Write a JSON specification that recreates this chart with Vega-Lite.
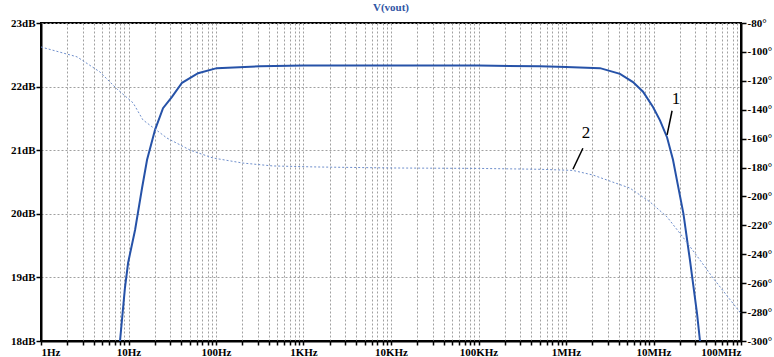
{
  "$schema": "https://vega.github.io/schema/vega-lite/v6.json",
  "width": 700,
  "height": 318,
  "autosize": {"type": "none"},
  "padding": {"left": 41, "top": 23, "right": 33, "bottom": 16},
  "background": "white",
  "title": {"text": "V(vout)", "color": "#2f55a4", "font": "Liberation Serif", "fontWeight": "bold", "fontSize": 11, "offset": 4},
  "config": {
    "view": {"stroke": "black", "strokeWidth": 2},
    "axis": {
      "labelFont": "Liberation Serif", "labelFontWeight": "bold", "labelFontSize": 11, "labelColor": "black",
      "tickColor": "black", "domainColor": "black", "domainWidth": 2, "tickWidth": 1.5,
      "gridColor": "#a0a0a0", "gridDash": [2, 2], "gridWidth": 1, "title": null
    }
  },
  "datasets": {
    "mag": [
      {"f": 8.0, "db": 18.0}, {"f": 9.1, "db": 18.83}, {"f": 9.9, "db": 19.23}, {"f": 11.9, "db": 19.75},
      {"f": 14.3, "db": 20.41}, {"f": 16.3, "db": 20.85}, {"f": 20.1, "db": 21.32}, {"f": 24.8, "db": 21.66},
      {"f": 31.4, "db": 21.84}, {"f": 40.9, "db": 22.06}, {"f": 62.4, "db": 22.21}, {"f": 102, "db": 22.29},
      {"f": 317, "db": 22.32}, {"f": 1000, "db": 22.33}, {"f": 10000, "db": 22.33}, {"f": 100000, "db": 22.33},
      {"f": 500000, "db": 22.32}, {"f": 1000000, "db": 22.31}, {"f": 2450000, "db": 22.29}, {"f": 4140000, "db": 22.2},
      {"f": 5830000, "db": 22.07}, {"f": 7590000, "db": 21.92}, {"f": 9870000, "db": 21.68}, {"f": 11860000, "db": 21.47},
      {"f": 14300000, "db": 21.2}, {"f": 16700000, "db": 20.85}, {"f": 19000000, "db": 20.45}, {"f": 22000000, "db": 20.0},
      {"f": 26100000, "db": 19.27}, {"f": 31400000, "db": 18.44}, {"f": 34000000, "db": 18.0}
    ],
    "phase": [
      {"f": 1, "deg": -96.6}, {"f": 2.58, "deg": -103.4}, {"f": 4.72, "deg": -113.9}, {"f": 7.39, "deg": -125.7},
      {"f": 11.3, "deg": -135.3}, {"f": 14.6, "deg": -147}, {"f": 27.5, "deg": -159.6}, {"f": 50.4, "deg": -167.9},
      {"f": 92.4, "deg": -173.4}, {"f": 203, "deg": -176.9}, {"f": 447, "deg": -178.9}, {"f": 1420, "deg": -179.6},
      {"f": 10000, "deg": -180.3}, {"f": 100000, "deg": -180.6}, {"f": 505000, "deg": -181.2}, {"f": 1200000, "deg": -182},
      {"f": 2040000, "deg": -185.2}, {"f": 3400000, "deg": -190}, {"f": 5370000, "deg": -194.2}, {"f": 9120000, "deg": -203.8},
      {"f": 14300000, "deg": -214.2}, {"f": 21600000, "deg": -228}, {"f": 34000000, "deg": -244}, {"f": 47900000, "deg": -256.4},
      {"f": 100000000, "deg": -281}
    ],
    "labels": [
      {"f": 18100000, "db": 21.8, "t": "1"},
      {"f": 1690000, "db": 21.27, "t": "2"}
    ],
    "leaders": [
      {"f": 16300000, "f2": 14300000, "db": 21.62, "db2": 21.24},
      {"f": 1560000, "f2": 1200000, "db": 21.03, "db2": 20.7}
    ]
  },
  "layer": [
    {
      "layer": [
        {
          "data": {"name": "mag"},
          "mark": {"type": "line", "color": "#2652a8", "strokeWidth": 2, "clip": true},
          "encoding": {
            "x": {"field": "f", "type": "quantitative",
              "scale": {"type": "log", "domain": [1, 100000000]},
              "axis": {
                "values": [1,2,3,4,5,6,7,8,9,10,20,30,40,50,60,70,80,90,100,200,300,400,500,600,700,800,900,1000,2000,3000,4000,5000,6000,7000,8000,9000,10000,20000,30000,40000,50000,60000,70000,80000,90000,100000,200000,300000,400000,500000,600000,700000,800000,900000,1000000,2000000,3000000,4000000,5000000,6000000,7000000,8000000,9000000,10000000,20000000,30000000,40000000,50000000,60000000,70000000,80000000,90000000,100000000],
                "labelExpr": "datum.value==1?'1Hz':datum.value==10?'10Hz':datum.value==100?'100Hz':datum.value==1000?'1KHz':datum.value==10000?'10KHz':datum.value==100000?'100KHz':datum.value==1000000?'1MHz':datum.value==10000000?'10MHz':datum.value==100000000?'100MHz':''",
                "grid": true, "tickSize": 4, "labelOverlap": false, "labelPadding": 1
              }},
            "y": {"field": "db", "type": "quantitative",
              "scale": {"domain": [18, 23]},
              "axis": {"values": [18, 19, 20, 21, 22, 23], "labelExpr": "datum.value + 'dB'", "grid": true, "tickSize": 5, "labelPadding": 1}}
          }
        },
        {
          "data": {"name": "leaders"},
          "mark": {"type": "rule", "color": "black", "strokeWidth": 1.5},
          "encoding": {
            "x": {"field": "f", "type": "quantitative", "scale": {"type": "log", "domain": [1, 100000000]}},
            "x2": {"field": "f2"},
            "y": {"field": "db", "type": "quantitative", "scale": {"domain": [18, 23]}},
            "y2": {"field": "db2"}
          }
        },
        {
          "data": {"name": "labels"},
          "mark": {"type": "text", "font": "Liberation Serif", "fontSize": 17, "color": "black", "baseline": "middle", "align": "center"},
          "encoding": {
            "x": {"field": "f", "type": "quantitative", "scale": {"type": "log", "domain": [1, 100000000]}},
            "y": {"field": "db", "type": "quantitative", "scale": {"domain": [18, 23]}},
            "text": {"field": "t"}
          }
        }
      ]
    },
    {
      "data": {"name": "phase"},
      "mark": {"type": "line", "color": "#6f8fcc", "strokeWidth": 1, "strokeDash": [2, 2], "clip": true},
      "encoding": {
        "x": {"field": "f", "type": "quantitative", "scale": {"type": "log", "domain": [1, 100000000]}},
        "y": {"field": "deg", "type": "quantitative",
          "scale": {"domain": [-300, -80]},
          "axis": {"orient": "right", "values": [-80,-100,-120,-140,-160,-180,-200,-220,-240,-260,-280,-300], "labelExpr": "datum.value + '°'", "grid": false, "tickSize": 5, "labelPadding": 1}}
      }
    }
  ],
  "resolve": {"scale": {"y": "independent"}}
}
